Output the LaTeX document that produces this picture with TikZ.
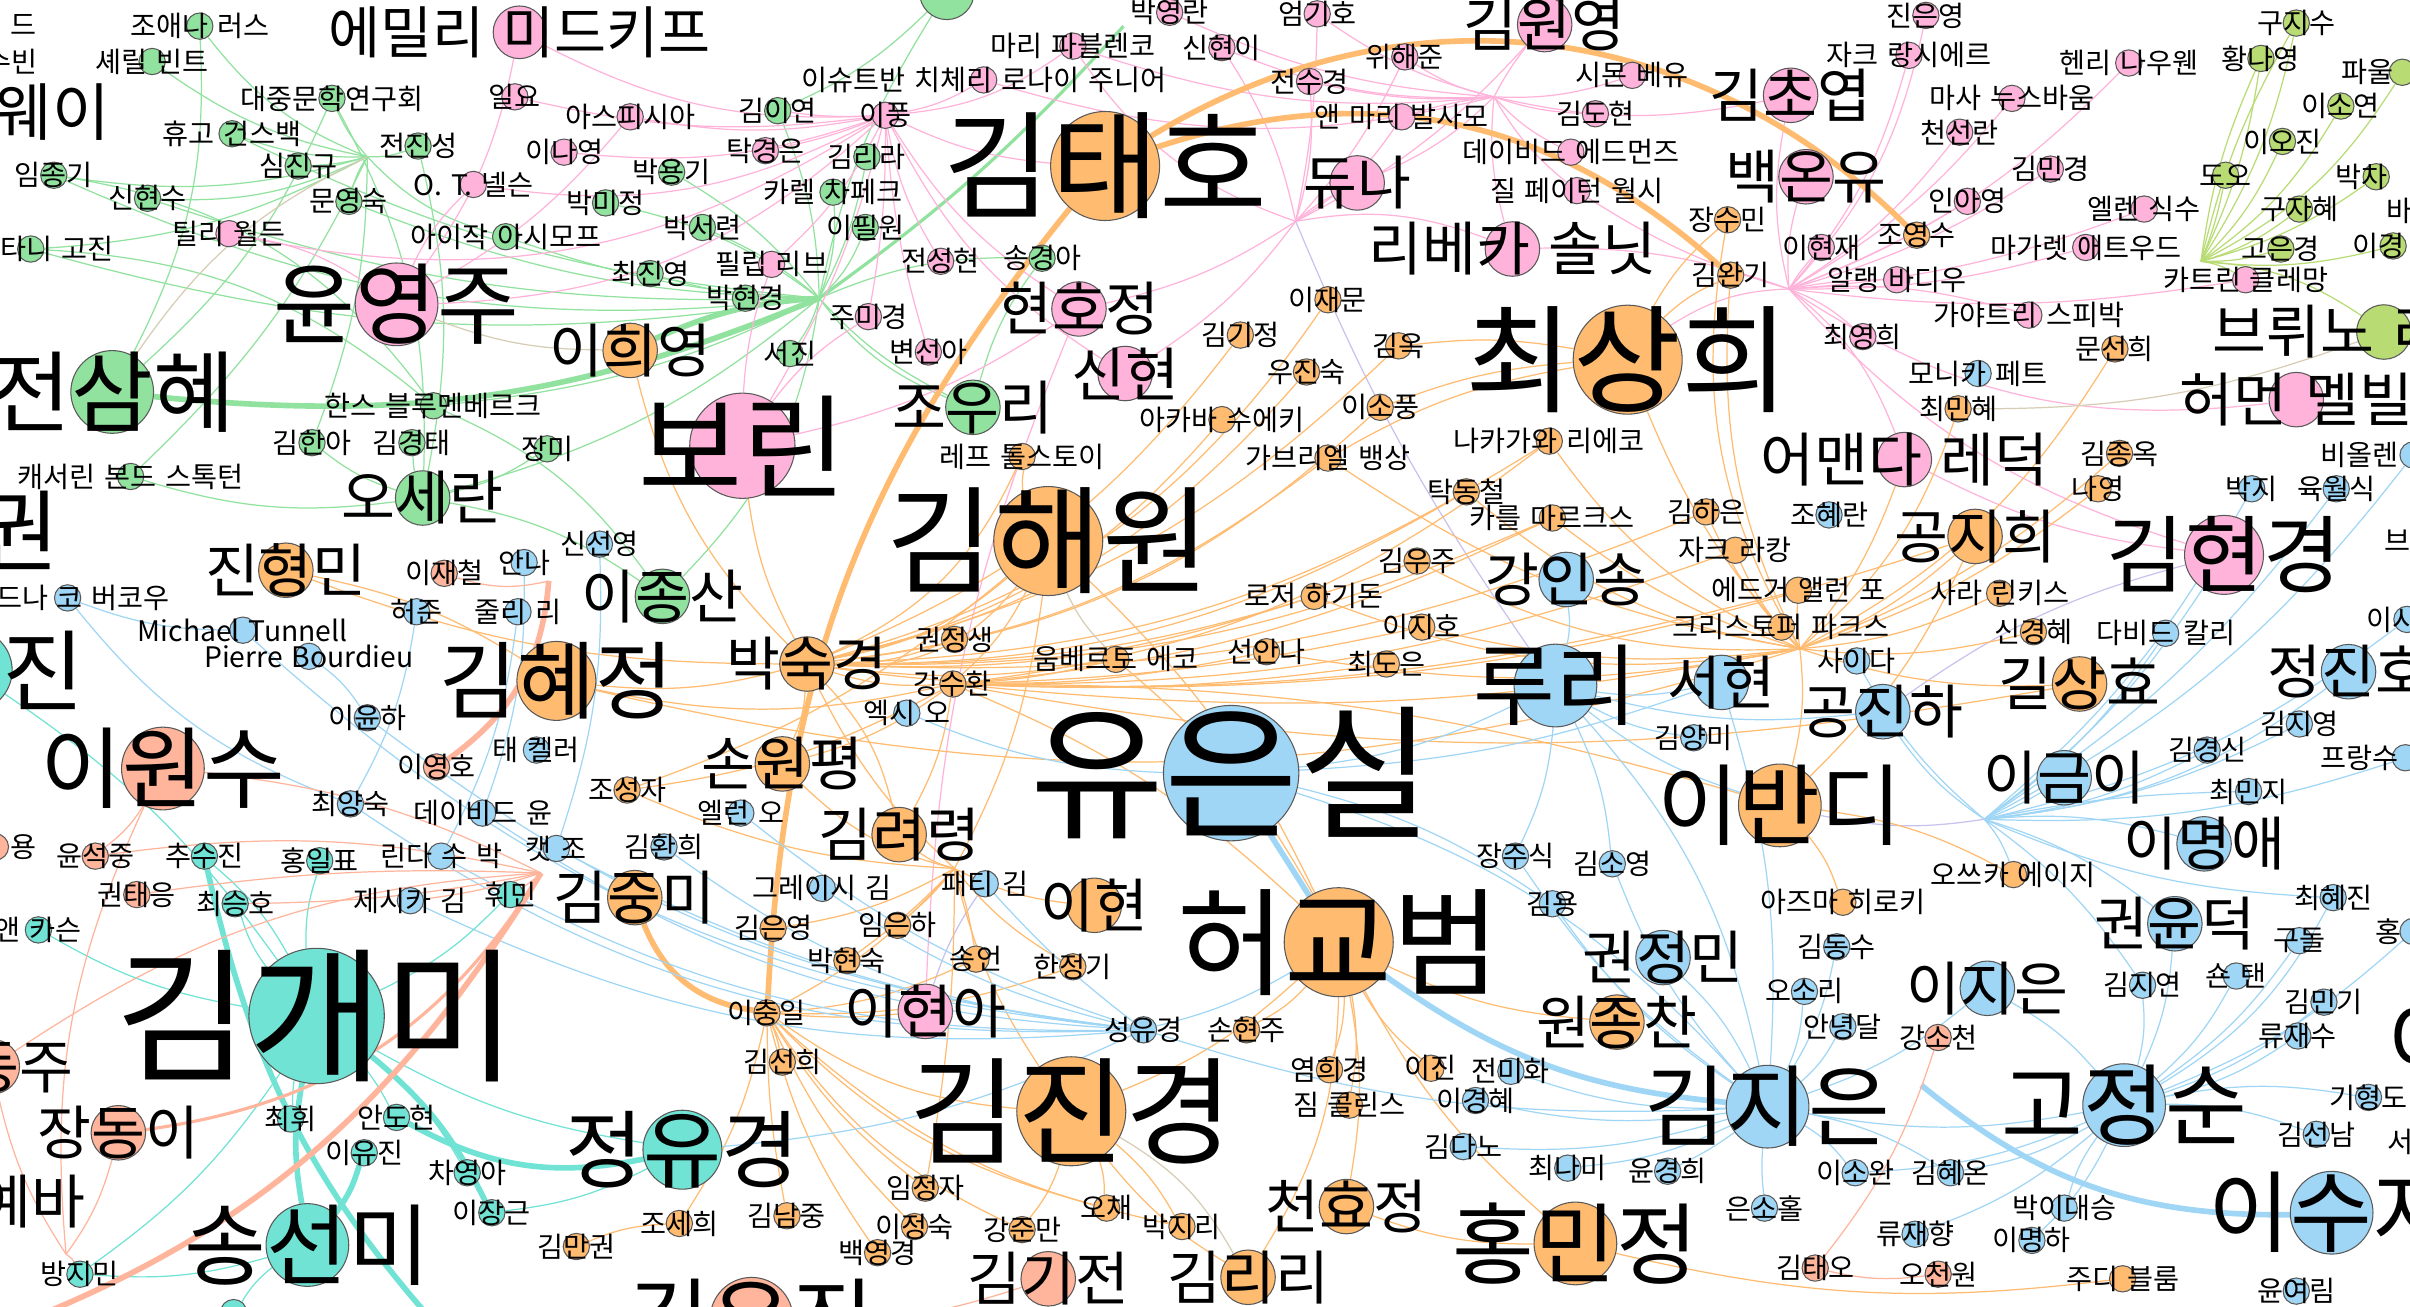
\documentclass[tikz,border=0pt]{standalone}
\usepackage{fontspec}
\setmainfont{Noto Sans CJK KR}[WordSpace=1.4]
\usetikzlibrary{backgrounds}

\definecolor{cP}{HTML}{FFB3DA}
\definecolor{cO}{HTML}{FFBB70}
\definecolor{cG}{HTML}{90E29E}
\definecolor{cB}{HTML}{A0D6F5}
\definecolor{cT}{HTML}{70E3D4}
\definecolor{cS}{HTML}{FFB49C}
\definecolor{cL}{HTML}{B8DC73}
\definecolor{cN}{HTML}{D6CDB4}
\definecolor{cV}{HTML}{C9C2EE}

\tikzset{
  pers/.style={circle, draw=black!65, line width=0.3pt, inner sep=0pt, minimum size=1.07*#1pt},
  ptxt/.style={inner sep=0pt, /utils/exec={\pgfmathsetmacro\fs{1.15*#1}}, font=\fontsize{\fs}{\fs}\selectfont},
  eG/.style={draw=cG, line width=0.35pt},
  eP/.style={draw=cP, line width=0.35pt},
  eO/.style={draw=cO, line width=0.35pt},
  eB/.style={draw=cB, line width=0.35pt},
  eT/.style={draw=cT, line width=0.35pt},
  eS/.style={draw=cS, line width=0.35pt},
  eL/.style={draw=cL, line width=0.35pt},
  eN/.style={draw=cN, line width=0.35pt},
  eV/.style={draw=cV, line width=0.35pt},
  thk/.style={line width=1.6pt},
  mid/.style={line width=0.9pt}
}

\def\people{
joanna/130/17/cG/7/조애나 러스,
vint/99/40/cG/7/셰릴 빈트,
daejung/216/64/cG/7/대중문학연구회,
gernsback/151/87/cG/7/휴고 건스백,
simjg/194/108/cG/7/심진규,
jeonjs/272/95/cG/7/전진성,
imjg/35/114/cG/7/임종기,
shinhs/96/129/cG/7/신현수,
moonys/227/131/cG/7/문영숙,
karatani/20/162/cG/7/가라타니 고진,
asimov/329/154/cG/7/아이작 아시모프,
parkmj/394/132/cG/7/박미정,
blumen/282/264/cG/7/한스 블루멘베르크,
kimiy/506/72/cG/7/김이연,
parkyg/437/112/cG/7/박용기,
kimrr/564/102/cG/7/김리라,
capek/542/125/cG/7/카렐 차페크,
leepw/563/148/cG/7/이필원,
parksr/457/148/cG/7/박서련,
choijy/423/178/cG/7/최진영,
parkhk/485/194/cG/7/박현경,
songka/678/168/cG/7/송경아,
seojin/514/230/cG/7/서진,
kimha/203/288/cG/7/김한아,
kimkt/268/288/cG/7/김경태,
jangmi/356/292/cG/7/장미,
bond/85/310/cG/7/캐서린 본드 스톡턴,
leejs/431/388/cG/14.5/이종산,
jowr/633/265/cG/14.5/조우리,
osr/275/324/cG/14.5/오세란,
jeonsh/73/255/cG/22/전삼혜,
topg/616/-5/cG/14.5/,
tilly/149/152/cP/7/틸리 월든,
ilyo/335/63/cP/7/일요,
asphyxia/410/76/cP/7/아스피시아,
leeny/367/99/cP/7/이나영,
nelson/308/120/cP/7/O. T. 넬슨,
pavlenko/698/30/cP/7/마리 파블렌코,
parkyr/761/8/cP/7/박영란,
shinhi/795/31/cP/7/신현이,
cziczer/640/52/cP/7/이슈트반 치체리 로나이 주니어,
leep/576/75/cP/7/이풍,
takke/498/98/cP/7/탁경은,
reeve/502/172/cP/7/필립 리브,
jeonsgh/612/170/cP/7/전성현,
jumk/565/206/cP/7/주미경,
byunsa/604/229/cP/7/변선아,
eomkh/857/9/cP/7/엄기호,
wihj/914/37/cP/7/위해준,
jeonsk/852/53/cP/7/전수경,
balsamo/912/76/cP/7/앤 마리 발사모,
weil/1062/49/cP/7/시몬 베유,
kimdh/1038/74/cP/7/김도현,
edmonds/1022/99/cP/7/데이비드 에드먼즈,
walsh/1026/124/cP/7/질 페이턴 월시,
jinye/1253/10/cP/7/진은영,
ranciere/1242/36/cP/7/자크 랑시에르,
nouwen/1385/41/cP/7/헨리 나우웬,
nussbaum/1309/64/cP/7/마사 누스바움,
cheonsr/1275/86/cP/7/천선란,
kimmk/1334/110/cP/7/김민경,
inay/1280/131/cP/7/인아영,
cixous/1395/136/cP/7/엘렌 식수,
leehj/1185/161/cP/7/이현재,
atwood/1357/161/cP/7/마가렛 애트우드,
badiou/1234/182/cP/7/알랭 바디우,
clement/1461/182/cP/7/카트린 클레망,
spivak/1320/205/cP/7/가야트리 스피박,
choiyh/1212/219/cP/7/최영희,
midkiff/338/21/cP/14/에밀리 미드키프,
hyunhj/702/201/cP/14.5/현호정,
shinh/732/243/cP/14.5/신현,
kimwy/1005/16/cP/14.5/김원영,
kimcy/1165/62/cP/14.5/김초엽,
djuna/883/119/cP/14.5/듀나,
baekoy/1175/115/cP/14.5/백온유,
solnit/984/162/cP/14.5/리베카 솔닛,
leduc/1239/299/cP/14.5/어맨다 레덕,
melville/1494/260/cP/14.5/허먼 멜빌,
leeha/602/658/cP/14.5/이현아,
yunyj/258/198/cP/22/윤영주,
kimhk/1447/361/cP/21/김현경,
borin/483/290/cP/28/보린,
akaba/795/273/cO/7/아카바 수에키,
jangsm/1124/143/cO/7/장수민,
kimwk/1126/179/cO/7/김완기,
leejm/864/195/cO/7/이재문,
kimkj/807/218/cO/7/김기정,
kimok/910/225/cO/7/김옥,
woojs/850/242/cO/7/우진숙,
leesp/898/265/cO/7/이소풍,
nakagawa/1008/287/cO/7/나카가와 리에코,
joys/1247/153/cO/7/조영수,
moonsh/1376/227/cO/7/문선희,
choimh/1274/266/cO/7/최민혜,
tolstoy/665/297/cO/7/레프 톨스토이,
kwonjs/621/416/cO/7/권정생,
kangsh/620/445/cO/7/강수환,
eco/726/429/cO/7/움베르토 에코,
josj/408/514/cO/7/조성자,
vincent/864/298/cO/7/가브리엘 뱅상,
takdc/954/320/cO/7/탁동철,
marx/1010/337/cO/7/카를 마르크스,
kimhe/1110/333/cO/7/김하은,
lacan/1129/358/cO/7/자크 라캉,
kimwj/922/365/cO/7/김우주,
haggadon/855/388/cO/7/로저 하기돈,
poe/1170/384/cO/7/에드거 앨런 포,
leejh/925/408/cO/7/이지호,
parkes/1159/408/cO/7/크리스토퍼 파크스,
seonan/824/424/cO/7/선안나,
choide/902/432/cO/7/최도은,
kimjo/1379/295/cO/7/김종옥,
nayoung/1365/318/cO/7/나영,
rinkis/1301/386/cO/7/사라 린키스,
shinkh/1323/411/cO/7/신경혜,
kimey/503/604/cO/7/김은영,
imeh/584/602/cO/7/임은하,
parkhs/551/625/cO/7/박현숙,
songeon/635/624/cO/7/송언,
hanjk/698/629/cO/7/한정기,
leecil/499/659/cO/7/이충일,
sonhj/811/670/cO/7/손현주,
kimsh/509/691/cO/7/김선희,
imjj/602/773/cO/7/임정자,
joseh/442/796/cO/7/조세희,
kimnj/512/791/cO/7/김남중,
leejsk/595/798/cO/7/이정숙,
kangjm/665/800/cO/7/강준만,
ochae/720/786/cO/7/오채,
parkjr/769/798/cO/7/박지리,
baekyk/571/815/cO/7/백영경,
kimmg/375/811/cO/7/김만권,
yeomhk/865/696/cO/7/염희경,
leejin/931/695/cO/7/이진,
collins/878/719/cO/7/짐 콜린스,
otsuka/1310/569/cO/7/오쓰카 에이지,
azuma/1199/587/cO/7/아즈마 히로키,
blume/1381/832/cO/7/주디 블룸,
leehy/410/228/cO/14.5/이희영,
jinhm/186/371/cO/14.5/진형민,
parksk/525/432/cO/14.5/박숙경,
sonwp/509/497/cO/14.5/손원평,
kimrl/585/543/cO/14.5/김려령,
kimjm/413/584/cO/14.5/김중미,
leeh/712/589/cO/14.5/이현,
gongjh/1285/349/cO/14.5/공지희,
gilsh/1353/445/cO/14.5/길상효,
wonjc/1052/665/cO/14.5/원종찬,
cheonhj/876/785/cO/14.5/천효정,
kimlr/812/831/cO/14.5/김리리,
kimhj/362/443/cO/21/김혜정,
leebd/1158/524/cO/22/이반디,
hongmj/1025/809/cO/22/홍민정,
kimth/719/108/cO/29/김태호,
choish/1059/234/cO/29/최상희,
kimhw/682/352/cO/29/김해원,
heogb/871/613/cO/29/허교범,
kimjk/697/723/cO/29/김진경,
fett/1287/243/cB/7/모니카 페트,
hyeran/1190/335/cB/7/조혜란,
ahnna/341/366/cB/7/안나,
shinsy/390/354/cB/7/신선영,
berkow/44/389/cB/7/,
heojun/271/398/cB/7/허준,
julie/337/398/cB/7/줄리 리,
tunnell/158/410/cB/7/Michael Tunnell,
bourdieu/201/427/cB/7/Pierre Bourdieu,
leeyh/239/467/cB/7/이윤하,
gallery/349/488/cB/7/태 켈러,
choiys/228/523/cB/7/최양숙,
yoon/314/529/cB/7/데이비드 윤,
katjo/362/552/cB/7/캣 조,
lindasue/287/557/cB/7/린다 수 박,
axie/590/464/cB/7/엑시 오,
ellenoh/482/529/cB/7/엘런 오,
kimhh/432/551/cB/7/김환희,
kimym/1102/480/cB/7/김양미,
jangjs/986/557/cB/7/장주식,
kimsy/1049/562/cB/7/김소영,
parkji/1465/318/cB/7/박지,
yukws/1520/318/cB/7/육월식,
cali/1409/412/cB/7/다비드 칼리,
saida/1208/430/cB/7/사이다,
kimjy/1496/471/cB/7/김지영,
kimks/1436/488/cB/7/김경신,
choimj/1463/515/cB/7/최민지,
jessica/267/586/cB/7/제시카 김,
gracie/535/578/cB/7/그레이시 김,
patti/641/575/cB/7/패티 김,
seongyk/744/670/cB/7/성유경,
kimyong/1010/588/cB/7/김용,
jeonmh/983/697/cB/7/전미화,
leekh/960/716/cB/7/이경혜,
kimdn/952/746/cB/7/김다노,
choinm/1020/760/cB/7/최나미,
yoonkh/1085/762/cB/7/윤경희,
eunsh/1148/786/cB/7/은소홀,
kimds/1195/616/cB/7/김동수,
osori/1174/645/cB/7/오소리,
annyd/1199/668/cB/7/안녕달,
choihj/1518/584/cB/7/최혜진,
gudol/1496/612/cB/7/구돌,
kimjyn/1394/641/cB/7/김지연,
shauntan/1455/635/cB/7/숀 탠,
kimmgi/1512/652/cB/7/김민기,
ryujs/1495/674/cB/7/류재수,
kihd/1541/714/cB/7/기형도,
kimsn/1507/738/cB/7/김선남,
leeswan/1207/763/cB/7/이소완,
kimheon/1269/763/cB/7/김혜온,
parkids/1343/786/cB/7/박이대승,
ryujh/1246/803/cB/7/류재향,
leemh/1322/807/cB/7/이명하,
yoonyr/1494/840/cB/7/윤여림,
violaine/1570/296/cB/7/,
isicut/1566/403/cB/7/,
francois/1565/493/cB/7/,
hongcut/1570/606/cB/7/,
kangis/1019/377/cB/14.5/강인송,
seohyun/1120/444/cB/14.5/서현,
gongjinha/1225/463/cB/14.5/공진하,
leegi/1343/506/cB/14.5/이금이,
leemy/1434/549/cB/14.5/이명애,
jeongjh/1528/437/cB/14.5/정진호,
kwonjm/1082/623/cB/14.5/권정민,
leejieun/1293/643/cB/14.5/이지은,
kwonyd/1415/601/cB/14.5/권윤덕,
luri/1012/446/cB/22/루리,
kimje/1150/720/cB/22/김지은,
kojs/1382/719/cB/22/고정순,
leesj/1517/789/cB/22/이수지,
yes/801/503/cB/36/유은실,
choisho/153/588/cT/7/최승호,
carson/25/605/cT/7/앤 카슨,
whimin/332/582/cT/7/휘민,
choihwi/189/728/cT/7/최휘,
ahndh/258/727/cT/7/안도현,
leeyj/237/750/cT/7/이유진,
chaya/304/763/cT/7/차영아,
leejg/320/789/cT/7/이장근,
bangjm/52/829/cT/7/방지민,
choosj/133/557/cT/7/추수진,
hongip/208/560/cT/7/홍일표,
botT/152/854/cT/7/,
songsm/200/810/cT/22/송선미,
jungyk/444/748/cT/21/정유경,
kimgm/206/661/cT/36/김개미,
cutT/-19/436/cT/22/,
leejc/289/373/cS/7/이재철,
leeyho/284/499/cS/7/이영호,
yoonsj/62/557/cS/7/윤석중,
kwonte/89/582/cS/7/권태응,
kangsc/1261/675/cS/7/강소천,
kimto/1181/825/cS/7/김태오,
ohcw/1261/829/cS/7/오천원,
cutS/-3/551/cS/7/,
jangdi/77/737/cS/14.5/장동이,
kimgj/682/832/cS/14.5/김기전,
yoondj/-5/694/cS/14.5/윤동주,
leews/106/500/cS/22/이원수,
kimyj/489/858/cS/22/김유진,
gujs/1494/15/cL/7/구지수,
hwangny/1471/38/cL/7/황나영,
celan/1563/47/cL/7/,
leesy/1523/69/cL/7/이소연,
leeoj/1485/92/cL/7/이오진,
doo/1448/114/cL/7/도오,
parkck/1546/115/cL/7/,
gujh/1496/136/cL/7/구자혜,
goek/1484/162/cL/7/고은경,
leekcut/1557/160/cL/7/,
latour/1551/216/cL/14.5/브뤼노 라투르}

\def\frags{
fa/24/16/7/east/드,
fb/25/40/7/east/수빈,
fc/72/73/15.5/east/웨이,
fd/39/345/22/east/권,
fe/55/436/22/east/진,
ff/56/782/14.5/east/예바,
fg/24/551/7/east/용,
fh/111/389/7/east/드나 코 버코우,
fi/1558/47/7/east/파울,
fj/1554/115/7/east/박차,
fk/1552/137/7/west/바,
fl/1565/160/7/east/이경,
fm/1561/296/7/east/비올렌,
fn/1551/352/7/west/브,
fo/1574/403/7/east/이시,
fp/1561/493/7/east/프랑수,
fq/1563/606/7/east/홍,
fr/1553/678/22/west/이,
fs/1553/743/7/west/서}

\begin{document}
\begin{tikzpicture}[x=0.4374pt,y=-0.4374pt]
\useasboundingbox (0,0) rectangle (1568,850);
\foreach \nm/\px/\py/\cl/\sz/\tx in \people
  \node[pers=\sz, fill=\cl] (\nm) at (\px,\py) {};
\foreach \nm/\px/\py/\cl/\sz/\tx in \people
  \node[ptxt=\sz] (\nm-l) at (\nm) {\tx};
\foreach \nm/\px/\py/\sz/\an/\tx in \frags
  \node[ptxt=\sz, anchor=\an] (\nm) at (\px,\py) {\tx};

\coordinate (hubG) at (239,102);
\coordinate (hubG2) at (533,194);
\coordinate (hubG3) at (731,17);
\coordinate (hubP2) at (972,63);
\coordinate (hubP3) at (843,144);
\coordinate (hubP4) at (1164,188);
\coordinate (hubL) at (1432,170);
\coordinate (hubO) at (1171,422);
\coordinate (hubO2) at (621,565);
\coordinate (hubB) at (1291,533);
\coordinate (hubS) at (352,568);
\coordinate (hubS2) at (43,816);
\coordinate (hubS3) at (357,378);
\coordinate (sEnd) at (-40,880);
\coordinate (bFree) at (1250,706);
\coordinate (tEnd) at (300,880);

\begin{scope}[on background layer]
\fill[white] (0,0) rectangle (1568,850);
\foreach \a/\b/\bd in {hubG/joanna/15,hubG/vint/12,hubG/daejung/8,hubG/gernsback/10,hubG/simjg/6,hubG/imjg/12,hubG/shinhs/14,hubG/moonys/-8,hubG/karatani/12,hubG/jeonjs/-10,hubG/asimov/-15,hubG/bond/10,
  hubG2/parkhk/8,hubG2/choijy/8,hubG2/parksr/-8,hubG2/parkyg/-10,hubG2/capek/-12,hubG2/kimiy/-10,hubG2/seojin/10,hubG2/parkmj/-12,hubG2/leepw/-12,hubG2/kimrr/-8,hubG2/asimov/8,hubG2/osr/12,hubG2/blumen/10,hubG2/songka/12,hubG2/jowr/-15,hubG2/gernsback/10,hubG2/imjg/15,hubG2/leejs/18,hubG2/karatani/12,hubG2/shinhs/10,hubG2/moonys/10,
  osr/kimha/10,osr/kimkt/6,osr/jangmi/-10,osr/bond/12,osr/daejung/-15,osr/leejs/12,osr/jeonjs/-12,jeonsh/daejung/-12,jeonsh/joanna/-15,karatani/blumen/18,imjg/blumen/22,leejs/blumen/-15,kimha/hubG/-10,jowr/songka/10,jowr/hubG2/10,topg/hubG2/-10,topg/kimiy/10}
  \draw[eG] (\a) to[bend left=\bd] (\b);
\foreach \a/\b/\bd in {jeonsh/hubG2/-14,leehy/hubG2/10}
  \draw[eG,thk] (\a) to[bend left=\bd] (\b);
\draw[eG,mid] (hubG2) to[bend left=-6] (hubG3);
\foreach \a/\b/\bd in {leep/takke/5,leep/asphyxia/10,leep/leeny/12,leep/reeve/10,leep/jumk/5,leep/jeonsgh/-10,leep/byunsa/-6,leep/hyunhj/-12,leep/shinh/-15,leep/cziczer/-10,leep/pavlenko/-15,leep/midkiff/15,leep/nelson/18,leep/ilyo/10,leep/yunyj/20,leep/borin/8,leep/tilly/22,leep/kimiy/5,leep/kimth/-10,
  hubP2/kimwy/5,hubP2/wihj/10,hubP2/jeonsk/8,hubP2/balsamo/-5,hubP2/djuna/10,hubP2/weil/-10,hubP2/kimdh/-8,hubP2/edmonds/-10,hubP2/eomkh/10,hubP2/shinhi/12,hubP2/solnit/-10,hubP2/walsh/-10,hubP2/pavlenko/12,hubP2/kimcy/-12,hubP2/cziczer/15,hubP2/parkyr/10,
  hubP3/djuna/5,hubP3/jeonsk/-10,hubP3/pavlenko/18,hubP3/shinhi/-10,hubP3/solnit/15,hubP3/hyunhj/10,hubP3/eomkh/-5,hubP3/balsamo/-12,hubP3/wihj/-8,hubP3/kimwy/-10,hubP3/shinh/10,
  hubP4/baekoy/10,hubP4/kimcy/12,hubP4/cheonsr/-10,hubP4/ranciere/-12,hubP4/jinye/-15,hubP4/nussbaum/-10,hubP4/nouwen/-12,hubP4/kimmk/-8,hubP4/inay/-5,hubP4/cixous/-8,hubP4/leehj/5,hubP4/badiou/5,hubP4/choiyh/10,hubP4/spivak/10,hubP4/atwood/-8,hubP4/melville/-20,hubP4/solnit/-10,hubP4/choish/-15,hubP4/clement/-8,hubP4/leduc/15,hubP4/walsh/8,hubP4/kimhk/-15,
  yunyj/tilly/-12,yunyj/nelson/10,yunyj/midkiff/-12,yunyj/asphyxia/-10,borin/jumk/10,borin/reeve/8,borin/hyunhj/-10,leeha/hyunhj/10,kimhk/leduc/10}
  \draw[eP] (\a) to[bend left=\bd] (\b);
\foreach \a/\b/\bd in {hubP3/luri/-6,kimhk/gongjinha/-10,leeha/patti/8,hubB/leebd/10}
  \draw[eV] (\a) to[bend left=\bd] (\b);
\foreach \a/\b/\bd in {hubL/gujs/-10,hubL/hwangny/-8,hubL/celan/-15,hubL/leesy/-12,hubL/leeoj/-10,hubL/doo/-5,hubL/parkck/-10,hubL/gujh/-10,hubL/goek/-8,hubL/leekcut/-10,hubL/latour/15,hubL/clement/10,hubL/hwangny/8,hubL/gujs/8}
  \draw[eL] (\a) to[bend left=\bd] (\b);
\foreach \a/\b/\bd in {parksk/kimhw/-15,parksk/kimhw/-28,parksk/tolstoy/-20,parksk/kangsh/-10,parksk/kwonjs/-10,parksk/eco/-8,parksk/sonwp/10,parksk/kimrl/15,parksk/kimhj/10,parksk/jinhm/10,parksk/akaba/-18,parksk/woojs/-18,parksk/kimkj/-15,parksk/leejm/-20,parksk/vincent/-15,parksk/leesp/-18,parksk/kimok/-15,parksk/haggadon/-10,parksk/seonan/-10,parksk/kimwj/-10,parksk/takdc/-15,parksk/borin/10,parksk/leehy/15,parksk/nakagawa/-15,parksk/marx/-12,parksk/kimhe/-12,
  kangsh/kimhw/-10,kangsh/eco/-5,kangsh/heogb/10,kangsh/choide/-5,kangsh/leejh/-5,kangsh/marx/-10,kangsh/nakagawa/-15,kangsh/kimrl/10,kangsh/sonwp/10,kangsh/hubO/-8,kangsh/gilsh/-10,kangsh/kimhj/12,kangsh/poe/-8,kangsh/gongjh/-10,kangsh/lacan/-10,kangsh/leebd/8,kangsh/josj/10,
  hubO/parkes/5,hubO/poe/5,hubO/lacan/10,hubO/kimhe/10,hubO/gongjh/-10,hubO/rinkis/-10,hubO/shinkh/-10,hubO/gilsh/-10,hubO/leduc/-10,hubO/nakagawa/15,hubO/takdc/15,hubO/marx/10,hubO/kimjo/-10,hubO/nayoung/-10,hubO/moonsh/-15,hubO/leebd/10,hubO/choish/10,hubO/kimwj/15,hubO/haggadon/15,hubO/leejh/10,hubO/jangsm/20,hubO/kimwk/15,hubO/choimh/-15,hubO/vincent/12,hubO/seonan/10,hubO/kimhj/15,
  hubO2/leeh/-10,hubO2/kimrl/10,hubO2/songeon/5,hubO2/kimey/10,hubO2/imeh/5,hubO2/parkhs/5,hubO2/leecil/10,hubO2/sonwp/15,hubO2/hanjk/-10,hubO2/kimjk/-10,hubO2/parksk/10,hubO2/kimhw/-10,hubO2/josj/10,hubO2/imjj/5,
  leecil/kimsh/5,leecil/imjj/-10,leecil/kimnj/-5,leecil/leejsk/-10,leecil/joseh/10,leecil/kangjm/-15,leecil/baekyk/-10,leecil/kimjk/-15,leecil/parkjr/-15,leecil/ochae/-15,leecil/leeha/-5,leecil/hanjk/-10,leecil/songeon/-10,
  heogb/yeomhk/10,heogb/leejin/-10,heogb/collins/10,heogb/cheonhj/10,heogb/kimlr/15,heogb/hongmj/-10,heogb/wonjc/-10,heogb/sonhj/10,heogb/kimjk/10,heogb/eco/-10,heogb/kimhw/-10,
  kimjk/ochae/10,kimjk/kangjm/10,kimjk/parkjr/10,kimjk/kimlr/-10,hongmj/cheonhj/10,hongmj/blume/-10,leebd/gongjh/-10,leebd/azuma/10,leebd/otsuka/10,choish/kimwk/10,choish/jangsm/10,choish/vincent/-10,choish/leesp/-8,choish/kimok/-8,kimhw/tolstoy/10,kimhw/josj/10,kimhj/jinhm/-10,kimmg/joseh/10}
  \draw[eO] (\a) to[bend left=\bd] (\b);
\foreach \a/\b/\bd in {kimth/joys/38,kimth/kimwk/30,kimth/leecil/-18,kimjm/leecil/-30}
  \draw[eO,thk] (\a) to[bend left=\bd] (\b);
\foreach \a/\b/\bd in {hubB/kimks/-10,hubB/kimjy/-10,hubB/jeongjh/-15,hubB/leemy/10,hubB/choimj/5,hubB/cali/-10,hubB/kimhk/-10,hubB/parkji/-10,hubB/yukws/-10,hubB/gongjinha/10,hubB/kwonyd/10,hubB/leegi/-5,hubB/otsuka/10,hubB/francois/-10,hubB/isicut/-12,hubB/violaine/-12,hubB/saida/10,hubB/kimjyn/10,hubB/choihj/-10,
  kimje/kwonjm/-10,kimje/leekh/10,kimje/jeonmh/10,kimje/kimdn/10,kimje/choinm/10,kimje/yoonkh/5,kimje/eunsh/-5,kimje/kimds/-10,kimje/osori/-10,kimje/annyd/-10,kimje/kimyong/10,kimje/kimsy/10,kimje/jangjs/10,kimje/leejieun/-10,kimje/kojs/-10,kimje/seohyun/-10,kimje/luri/-15,kimje/leeswan/10,kimje/kimheon/10,
  kojs/kwonyd/-10,kojs/kimjyn/-10,kojs/shauntan/-10,kojs/ryujs/-10,kojs/choihj/-15,kojs/gudol/-10,kojs/kimsn/10,kojs/kihd/10,kojs/parkids/-10,kojs/kimheon/10,kojs/leeswan/10,kojs/ryujh/10,kojs/leemh/10,kojs/leejieun/-10,kojs/kimmgi/-10,kojs/hongcut/-10,
  seongyk/gracie/10,seongyk/patti/5,seongyk/kimhh/15,seongyk/ellenoh/10,seongyk/lindasue/15,seongyk/jessica/15,seongyk/yoon/15,seongyk/choiys/18,seongyk/katjo/10,seongyk/leeyh/15,seongyk/tunnell/18,seongyk/jungyk/10,seongyk/kimje/-10,seongyk/heogb/-8,
  luri/seohyun/-10,luri/kimym/-10,luri/kangis/-10,luri/jangjs/10,luri/kimsy/10,luri/gongjinha/-10,luri/leebd/-10,
  yes/axie/10,yes/luri/-10,yes/kimje/15,yes/kimyong/10,yes/seohyun/-8,
  tunnell/berkow/10,bourdieu/leeyh/10,heojun/choiys/10,ahnna/yoon/10,shinsy/katjo/10,berkow/choiys/-15,julie/lindasue/10}
  \draw[eB] (\a) to[bend left=\bd] (\b);
\foreach \a/\b/\bd in {yes/heogb/0,heogb/kimje/-15,bFree/leesj/-20}
  \draw[eB,thk] (\a) to[bend left=\bd] (\b);
\foreach \a/\b/\bd in {kimgm/carson/10,kimgm/choisho/10,kimgm/whimin/-10,kimgm/choihwi/-5,kimgm/ahndh/5,kimgm/chaya/10,kimgm/bangjm/10,kimgm/hongip/10,kimgm/jungyk/-10,kimgm/choosj/-10,cutT/kimgm/10,songsm/bangjm/10,jungyk/leejg/10,botT/songsm/10}
  \draw[eT] (\a) to[bend left=\bd] (\b);
\foreach \a/\b/\bd in {kimgm/songsm/-10,leeyj/songsm/10,kimgm/leejg/12,ahndh/jungyk/-20,choosj/tEnd/-15}
  \draw[eT,thk] (\a) to[bend left=\bd] (\b);
\foreach \a/\b/\bd in {hubS/leews/-10,hubS/kwonte/-5,hubS/yoonsj/-10,hubS/choisho/5,hubS/yoondj/-15,hubS/whimin/5,hubS/jessica/5,leejc/hubS3/-15,kimto/ohcw/-10,leews/yoonsj/10,hubS2/bangjm/10,hubS2/leews/15,hubS2/jangdi/-10,hubS2/yoondj/10,kangsc/kimto/10,kimgj/kimyj/10}
  \draw[eS] (\a) to[bend left=\bd] (\b);
\foreach \a/\b/\bd in {hubS/sEnd/20,hubS3/leeyho/25}
  \draw[eS,thk] (\a) to[bend left=\bd] (\b);
\draw[eS,mid] (jangdi) to[bend left=-25] (hubS);
\foreach \a/\b/\bd in {yunyj/leehy/-10,hubG/jeonsh/-15,latour/choimh/10,kimhw/eco/-10,kimjk/kimlr/15}
  \draw[eN] (\a) to[bend left=\bd] (\b);
\end{scope}
\end{tikzpicture}
\end{document}
